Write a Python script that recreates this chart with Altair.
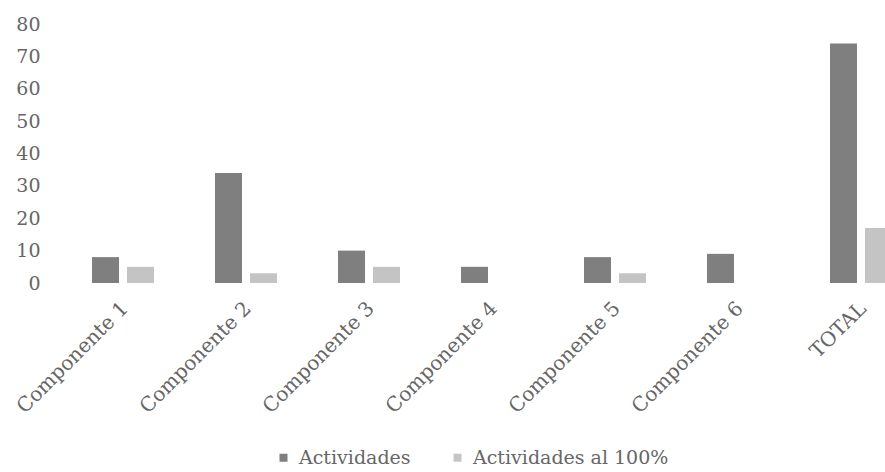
import altair as alt
import pandas as pd

categories = ["Componente 1", "Componente 2", "Componente 3", "Componente 4",
              "Componente 5", "Componente 6", "TOTAL"]
actividades = [8, 34, 10, 5, 8, 9, 74]
actividades_100 = [5, 3, 5, 0, 3, 0, 17]
series = ["Actividades", "Actividades al 100%"]

rows = []
for c, a, b in zip(categories, actividades, actividades_100):
    rows.append({"cat": c, "serie": series[0], "valor": a})
    rows.append({"cat": c, "serie": series[1], "valor": b})
df = pd.DataFrame(rows)

FONT = "DejaVu Serif"
TXT = "#666666"

chart = alt.Chart(df).mark_bar(clip=True).encode(
    x=alt.X("cat:N", sort=categories, title=None,
            scale=alt.Scale(range=[0, 860], paddingInner=0.496, paddingOuter=0.244),
            axis=alt.Axis(labelAngle=-45, domain=False, ticks=False, labelPadding=15,
                          labelOffset=-5, labelFont=FONT, labelFontSize=20,
                          labelColor=TXT, labelLimit=0)),
    xOffset=alt.XOffset("serie:N", sort=series,
                        scale=alt.Scale(paddingInner=0.229, paddingOuter=0)),
    y=alt.Y("valor:Q", title=None,
            scale=alt.Scale(domain=[0, 80]),
            axis=alt.Axis(values=list(range(0, 81, 10)), grid=False, domain=False,
                          ticks=False, labelPadding=22, labelFont=FONT,
                          labelFontSize=19, labelColor=TXT)),
    color=alt.Color("serie:N", sort=series, title=None,
                    scale=alt.Scale(domain=series, range=["#7f7f7f", "#c4c4c4"]),
                    legend=alt.Legend(orient="none", legendX=212, legendY=424,
                                      direction="horizontal", symbolType="square",
                                      symbolSize=64, labelFont=FONT, labelFontSize=19,
                                      labelColor=TXT, columnPadding=37, labelLimit=0,
                                      symbolStrokeWidth=0, labelOffset=6)),
).properties(
    width=823, height=259,
    background="white",
    autosize=alt.AutoSizeParams(type="none"),
    padding={"left": 62, "top": 24, "right": 0, "bottom": 189},
).configure_view(stroke=None)

chart.save("out.html", embed_options={"renderer": "svg", "actions": False})
